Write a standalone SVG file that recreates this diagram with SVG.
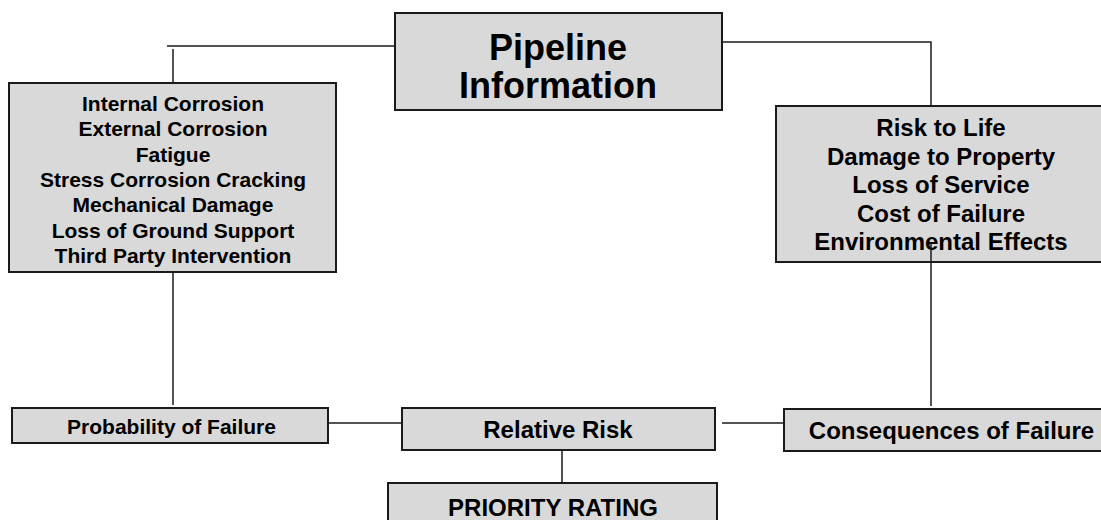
<svg xmlns="http://www.w3.org/2000/svg" width="1101" height="520" viewBox="0 0 1101 520">
<style>
.box{fill:#d9d9d9;stroke:#1a1a1a;stroke-width:2}
.t{font-family:"Liberation Sans",Arial,sans-serif;font-weight:bold;fill:#000;text-anchor:middle}
.c{fill:none;stroke:#1a1a1a;stroke-width:1.5}
</style>
<rect width="1101" height="520" fill="#fff"/>
<g id="pipeline">
<rect class="box" x="395" y="13" width="327" height="97"/>
<text class="t" x="558" y="60" font-size="36">Pipeline</text>
<text class="t" x="558" y="98" font-size="36">Information</text>
</g>
<g id="threats">
<rect class="box" x="9" y="83" width="327" height="189"/>
<text class="t" font-size="21" x="173" y="111">Internal Corrosion</text>
<text class="t" font-size="21" x="173" y="136.3">External Corrosion</text>
<text class="t" font-size="21" x="173" y="161.6">Fatigue</text>
<text class="t" font-size="21" x="173" y="187">Stress Corrosion Cracking</text>
<text class="t" font-size="21" x="173" y="212.2">Mechanical Damage</text>
<text class="t" font-size="21" x="173" y="237.5">Loss of Ground Support</text>
<text class="t" font-size="21" x="173" y="262.8">Third Party Intervention</text>
</g>
<g id="consequences-list">
<rect class="box" x="776" y="106" width="332" height="156"/>
<text class="t" font-size="24" x="941" y="136">Risk to Life</text>
<text class="t" font-size="24" x="941" y="164.5">Damage to Property</text>
<text class="t" font-size="24" x="941" y="193">Loss of Service</text>
<text class="t" font-size="24" x="941" y="221.5">Cost of Failure</text>
<text class="t" font-size="24" x="941" y="250">Environmental Effects</text>
</g>
<g id="probability">
<rect class="box" x="12" y="408" width="316" height="35"/>
<text class="t" font-size="21" x="171.5" y="434">Probability of Failure</text>
</g>
<g id="relative-risk">
<rect class="box" x="402" y="408" width="313" height="42"/>
<text class="t" font-size="24" x="558" y="438">Relative Risk</text>
</g>
<g id="consequences">
<rect class="box" x="784" y="409" width="335" height="42"/>
<text class="t" font-size="24" x="951.5" y="439">Consequences of Failure</text>
</g>
<g id="priority">
<rect class="box" x="388" y="483" width="329" height="42"/>
<text class="t" font-size="24" x="553" y="516">PRIORITY RATING</text>
</g>
<g id="connectors">
<line class="c" x1="167" y1="46" x2="395" y2="46"/>
<line class="c" x1="173" y1="49" x2="173" y2="83"/>
<polyline class="c" points="722,42 931,42 931,106"/>
<line class="c" x1="173" y1="272" x2="173" y2="405"/>
<line class="c" x1="931" y1="243" x2="931" y2="406"/>
<line class="c" x1="328" y1="423" x2="402" y2="423"/>
<line class="c" x1="722" y1="423" x2="784" y2="423"/>
<line class="c" x1="562" y1="450" x2="562" y2="482"/>
</g>
</svg>
